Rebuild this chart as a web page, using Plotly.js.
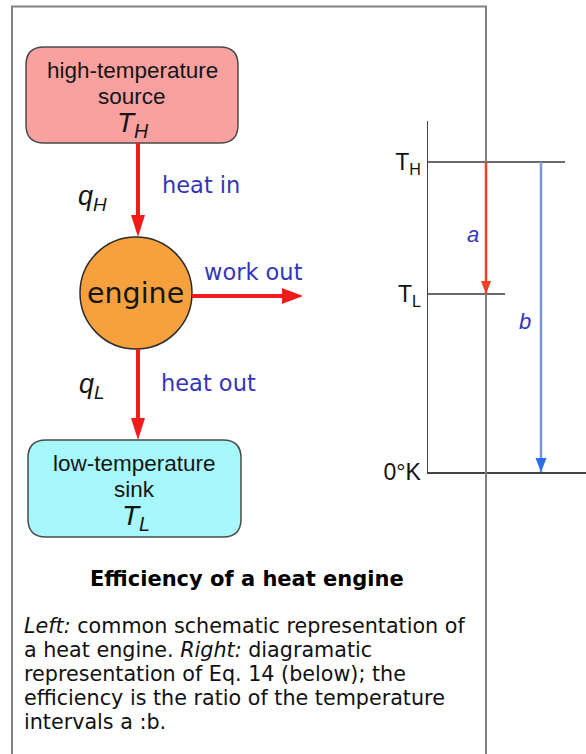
<!DOCTYPE html>
<html><head><meta charset="utf-8">
<script src="https://cdn.plot.ly/plotly-3.0.1.min.js"></script>
<style>html,body{margin:0;padding:0;background:#fff;}#chart{width:586px;height:754px;}</style>
</head><body><div id="chart"></div>
<script>
// ---------------- data ----------------
const levelNames = ['T<sub>H</sub>', 'T<sub>L</sub>', '0°K'];
const levelTemps = [100, 57.4, 0];          // relative temperatures, 0 = absolute zero
const intervalNames = ['a', 'b'];           // a: T_H -> T_L,  b: T_H -> 0 K
const reservoirLines = [['high-temperature', 'source'], ['low-temperature', 'sink']];
const reservoirSymbols = ['T<sub>H</sub>', 'T<sub>L</sub>'];
const heatSymbols = ['q<sub>H</sub>', 'q<sub>L</sub>'];
const flowLabels = ['heat in', 'work out', 'heat out'];
const engineLabel = 'engine';
const titleText = 'Efficiency of a heat engine';
const captionLines = [
  '<i>Left:</i> common schematic representation of',
  'a heat engine. <i>Right:</i> diagramatic',
  'representation of Eq. 14 (below); the',
  'efficiency is the ratio of the temperature',
  'intervals a :b.'
];

// ---------------- layout geometry (pixels) ----------------
const W = 586, H = 754;
const G = {
  frame: {x0: 12, y0: 6.5, x1: 486, y1: 800},
  source: {x0: 26, y0: 47, x1: 238, y1: 143, r: 18},
  sink: {x0: 28, y0: 440, x1: 241, y1: 537, r: 18},
  engine: {cx: 136, cy: 293, r: 56},
  axisX: 428, axisTop: 121, zeroY: 472, hotY: 162,
  levelLen: [137, 77],
  arrowX: [58, 113],
  ivLabel: [{dx: -13, yshift: -6}, {dx: -16, yshift: -4}]
};
const C = {
  frame: '#808080', boxLine: '#4a4a4a', source: '#f9a1a1', sink: '#a6f8fc',
  engine: '#f7a13e', red: '#f21b1b', blue: '#3434b8', text: '#151515',
  aLine: '#ee4422', aHead: '#f04020', bLine: '#7b97d9', bHead: '#2b6cf2', level: '#3a3a3a'
};

function roundRect(b) {
  const {x0, y0, x1, y1, r} = b;
  return `M${x0+r},${y0} L${x1-r},${y0} Q${x1},${y0} ${x1},${y0+r} L${x1},${y1-r} Q${x1},${y1} ${x1-r},${y1} ` +
         `L${x0+r},${y1} Q${x0},${y1} ${x0},${y1-r} L${x0},${y0+r} Q${x0},${y0} ${x0+r},${y0} Z`;
}
// triangular arrow head in pixel space, tip at (0,0)
function headDown(len, half) { return `M0,0 L${-half},${len} L${half},${len} Z`; }
function headRight(len, half) { return `M0,0 L${-len},${-half} L${-len},${half} Z`; }

const shapes = [];
const annotations = [];

// frame
shapes.push({type: 'rect', xref: 'x', yref: 'y', x0: G.frame.x0, y0: G.frame.y0, x1: G.frame.x1, y1: G.frame.y1,
  line: {color: C.frame, width: 2}, fillcolor: 'rgba(0,0,0,0)'});

// reservoirs
shapes.push({type: 'path', xref: 'x', yref: 'y', path: roundRect(G.source), fillcolor: C.source, line: {color: C.boxLine, width: 1.5}});
shapes.push({type: 'path', xref: 'x', yref: 'y', path: roundRect(G.sink), fillcolor: C.sink, line: {color: C.boxLine, width: 1.5}});
// engine
const E = G.engine;
shapes.push({type: 'circle', xref: 'x', yref: 'y', x0: E.cx - E.r, x1: E.cx + E.r, y0: E.cy - E.r, y1: E.cy + E.r,
  fillcolor: C.engine, line: {color: '#2a2a2a', width: 1.5}});

// red flow arrows
const shaftX = 138, workY = 296;
const flows = [
  {x0: shaftX, y0: G.source.y1, x1: shaftX, y1: E.cy - E.r, dir: 'down', len: 22, half: 7},
  {x0: E.cx + E.r, y0: workY, x1: 303, y1: workY, dir: 'right', len: 21, half: 8},
  {x0: shaftX, y0: E.cy + E.r, x1: shaftX, y1: G.sink.y0, dir: 'down', len: 22, half: 7}
];
flows.forEach(f => {
  const ex = f.dir === 'right' ? f.x1 - f.len + 1 : f.x1;
  const ey = f.dir === 'down' ? f.y1 - f.len + 1 : f.y1;
  shapes.push({type: 'line', xref: 'x', yref: 'y', x0: f.x0, y0: f.y0, x1: ex, y1: ey, line: {color: C.red, width: 4}});
  shapes.push({type: 'path', xref: 'x', yref: 'y', xsizemode: 'pixel', ysizemode: 'pixel', xanchor: f.x1, yanchor: f.y1,
    path: f.dir === 'down' ? headDown(f.len, f.half) : headRight(f.len, f.half), fillcolor: C.red, line: {width: 0}});
});

// right diagram arrows (temperature intervals)
const intervalEnds = [[levelTemps[0], levelTemps[1]], [levelTemps[0], levelTemps[2]]];
const iv = [
  {line: C.aLine, head: C.aHead, len: 13, half: 5},
  {line: C.bLine, head: C.bHead, len: 14, half: 5.5}
];
intervalEnds.forEach((e, i) => {
  shapes.push({type: 'line', xref: 'x2', yref: 'y2', x0: G.arrowX[i], x1: G.arrowX[i], y0: e[0], y1: e[1],
    line: {color: iv[i].line, width: 2.5}});
  shapes.push({type: 'path', xref: 'x2', yref: 'y2', xsizemode: 'pixel', ysizemode: 'pixel', xanchor: G.arrowX[i], yanchor: e[1],
    path: headDown(iv[i].len, iv[i].half), fillcolor: iv[i].head, line: {width: 0}});
  annotations.push({xref: 'x2', yref: 'y2', x: G.arrowX[i] + G.ivLabel[i].dx, y: (e[0] + e[1]) / 2, yshift: G.ivLabel[i].yshift,
    text: '<i>' + intervalNames[i] + '</i>', showarrow: false, font: {family: 'Liberation Sans', size: 22, color: C.blue}});
});

// reservoir texts
const boxes = [G.source, G.sink];
reservoirLines.forEach((lines, i) => {
  const b = boxes[i];
  const cx = (b.x0 + b.x1) / 2;
  lines.forEach((t, j) => {
    annotations.push({xref: 'x', yref: 'y', x: cx, y: b.y0 + 23 + j * 26, text: t, showarrow: false,
      font: {family: 'Liberation Sans', size: 22.5, color: C.text}});
  });
  annotations.push({xref: 'x', yref: 'y', x: cx + 1, y: b.y0 + 77, text: '<i>' + reservoirSymbols[i] + '</i>', showarrow: false,
    font: {family: 'Liberation Sans', size: 28, color: C.text}});
});

// heat symbols
const heatPos = [[92, 198], [92, 386]];
heatSymbols.forEach((t, i) => annotations.push({xref: 'x', yref: 'y', x: heatPos[i][0], y: heatPos[i][1],
  text: '<i>' + t + '</i>', showarrow: false, font: {family: 'Liberation Sans', size: 27, color: C.text}}));

// flow labels
const flowPos = [[201, 185], [253, 272], [208, 383]];
flowLabels.forEach((t, i) => annotations.push({xref: 'x', yref: 'y', x: flowPos[i][0], y: flowPos[i][1],
  text: t, showarrow: false, font: {family: 'DejaVu Sans', size: 22.5, color: C.blue}}));

annotations.push({xref: 'x', yref: 'y', x: E.cx - 1, y: E.cy, text: engineLabel, showarrow: false,
  font: {family: 'DejaVu Sans', size: 28.5, color: C.text}});

// title and caption
annotations.push({xref: 'x', yref: 'y', x: 247, y: 579, text: '<b>' + titleText + '</b>', showarrow: false,
  font: {family: 'DejaVu Sans', size: 21, color: '#000'}});
captionLines.forEach((t, i) => annotations.push({xref: 'x', yref: 'y', x: 22, xanchor: 'left', y: 626 + i * 24,
  text: t, showarrow: false, font: {family: 'DejaVu Sans', size: 20.7, color: '#111'}}));

// traces: temperature level lines on the right diagram
const traces = [
  {type: 'scatter', x: [null], y: [null], xaxis: 'x', yaxis: 'y', hoverinfo: 'skip', showlegend: false}
];
for (let i = 0; i < 2; i++) {
  traces.push({type: 'scatter', mode: 'lines', x: [0, G.levelLen[i]], y: [levelTemps[i], levelTemps[i]],
    xaxis: 'x2', yaxis: 'y2', line: {color: C.level, width: 1.5}, hoverinfo: 'skip', showlegend: false});
}

const topTemp = levelTemps[0] * (G.zeroY - G.axisTop) / (G.zeroY - G.hotY);
const layout = {
  width: W, height: H, margin: {l: 0, r: 0, t: 0, b: 0, pad: 0},
  paper_bgcolor: '#fff', plot_bgcolor: 'rgba(0,0,0,0)', showlegend: false,
  xaxis: {range: [0, W], domain: [0, 1], visible: false, fixedrange: true},
  yaxis: {range: [H, 0], domain: [0, 1], visible: false, fixedrange: true},
  xaxis2: {domain: [G.axisX / W, 1], range: [0, W - G.axisX], anchor: 'y2', showline: true, linecolor: '#444', linewidth: 1.5,
    showticklabels: false, ticks: '', showgrid: false, zeroline: false, fixedrange: true},
  yaxis2: {domain: [(H - G.zeroY) / H, (H - G.axisTop) / H], range: [0, topTemp], anchor: 'x2', showline: true,
    linecolor: '#444', linewidth: 1.5, tickvals: levelTemps, ticktext: levelNames, ticks: '', showgrid: false,
    zeroline: false, ticklabelstandoff: 1, tickfont: {family: 'Liberation Sans', size: 23, color: '#111'}, fixedrange: true},
  shapes: shapes,
  annotations: annotations
};
Plotly.newPlot('chart', traces, layout, {staticPlot: true, displayModeBar: false});
</script>
</body></html>
